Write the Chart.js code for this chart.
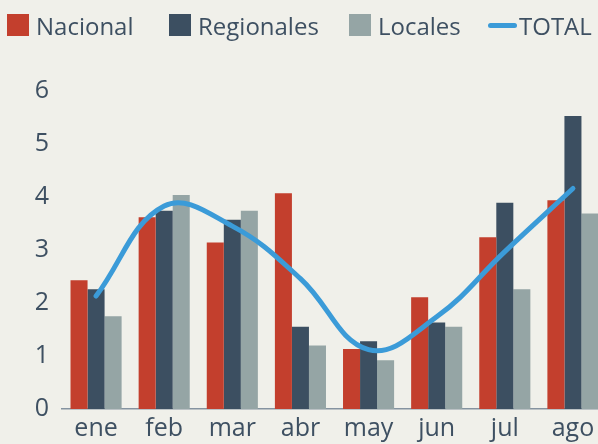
<!DOCTYPE html>
<html lang="es">
<head>
    <meta charset="UTF-8">
    <title>Nacional, Regionales, Locales</title>
    <script src="https://cdn.jsdelivr.net/npm/chart.js"></script>
    <style>
        html, body {
            margin: 0;
            padding: 0;
            width: 598px;
            height: 444px;
            overflow: hidden;
            background-color: #f0f0ea;
            font-family: 'Open Sans', sans-serif;
        }
        .legend {
            position: absolute;
            top: 0;
            left: 0;
            width: 598px;
            height: 50px;
            z-index: 2;
        }
        .item {
            position: absolute;
            top: 14px;
            height: 22px;
            display: flex;
            align-items: center;
            font-size: 24px;
            color: #3e5062;
            white-space: nowrap;
        }
        .box {
            width: 22px;
            height: 22px;
            margin-right: 7px;
        }
        .line {
            width: 29px;
            height: 5px;
            border-radius: 3px;
            margin-right: 2px;
        }
        .wrap {
            position: absolute;
            top: 0;
            left: 0;
        }
    </style>
</head>
<body>
    <div class="legend" id="legend"></div>
    <div class="wrap">
        <canvas id="chart" width="610" height="444"></canvas>
    </div>

    <script>
        // Datos
        const meses = ['ene', 'feb', 'mar', 'abr', 'may', 'jun', 'jul', 'ago'];
        const nacional = [2.43, 3.62, 3.14, 4.07, 1.13, 2.11, 3.24, 3.94];
        const regionales = [2.26, 3.74, 3.57, 1.55, 1.28, 1.63, 3.89, 5.53];
        const locales = [1.75, 4.04, 3.74, 1.20, 0.92, 1.55, 2.26, 3.69];
        const total = [2.13, 3.83, 3.45, 2.46, 1.12, 1.74, 2.97, 4.16];

        const colores = {
            nacional: '#c33f2d',
            regionales: '#3c4f61',
            locales: '#95a5a5',
            total: '#3b9bd8'
        };
        const texto = '#3e5062';

        // Leyenda
        const leyenda = [
            { label: 'Nacional', color: colores.nacional, left: 7, tipo: 'box' },
            { label: 'Regionales', color: colores.regionales, left: 169, tipo: 'box' },
            { label: 'Locales', color: colores.locales, left: 349, tipo: 'box' },
            { label: 'TOTAL', color: colores.total, left: 488, tipo: 'line' }
        ];
        const legendDiv = document.getElementById('legend');
        leyenda.forEach(l => {
            const item = document.createElement('div');
            item.className = 'item';
            item.style.left = l.left + 'px';
            const sym = document.createElement('span');
            sym.className = l.tipo;
            sym.style.backgroundColor = l.color;
            const txt = document.createElement('span');
            txt.textContent = l.label;
            item.appendChild(sym);
            item.appendChild(txt);
            legendDiv.appendChild(item);
        });

        const tickFont = { family: "'Open Sans', sans-serif", size: 25 };

        new Chart(document.getElementById('chart'), {
            data: {
                labels: meses,
                datasets: [
                    {
                        type: 'line',
                        label: 'TOTAL',
                        data: total,
                        borderColor: colores.total,
                        borderWidth: 5,
                        borderCapStyle: 'round',
                        pointRadius: 0,
                        tension: 0.4,
                        fill: false,
                        order: 0
                    },
                    { type: 'bar', label: 'Nacional', data: nacional, backgroundColor: colores.nacional, order: 1 },
                    { type: 'bar', label: 'Regionales', data: regionales, backgroundColor: colores.regionales, order: 1 },
                    { type: 'bar', label: 'Locales', data: locales, backgroundColor: colores.locales, order: 1 }
                ]
            },
            options: {
                responsive: false,
                animation: false,
                devicePixelRatio: 1,
                layout: { padding: { top: 91, right: 3, left: 0, bottom: 0 } },
                datasets: {
                    bar: { categoryPercentage: 0.75, barPercentage: 1.0, borderWidth: 0 }
                },
                plugins: {
                    legend: { display: false },
                    tooltip: { enabled: false }
                },
                scales: {
                    x: {
                        grid: { display: false },
                        border: { display: true, color: '#8593a0', width: 1.5 },
                        ticks: { color: texto, font: tickFont, padding: -3, maxRotation: 0 },
                        afterFit: s => { s.height = 35; }
                    },
                    y: {
                        min: 0,
                        max: 6,
                        grid: { display: false },
                        border: { display: false },
                        ticks: { stepSize: 1, color: texto, font: tickFont, padding: 5 },
                        afterFit: s => { s.width = 62; }
                    }
                }
            }
        });
    </script>
</body>
</html>
